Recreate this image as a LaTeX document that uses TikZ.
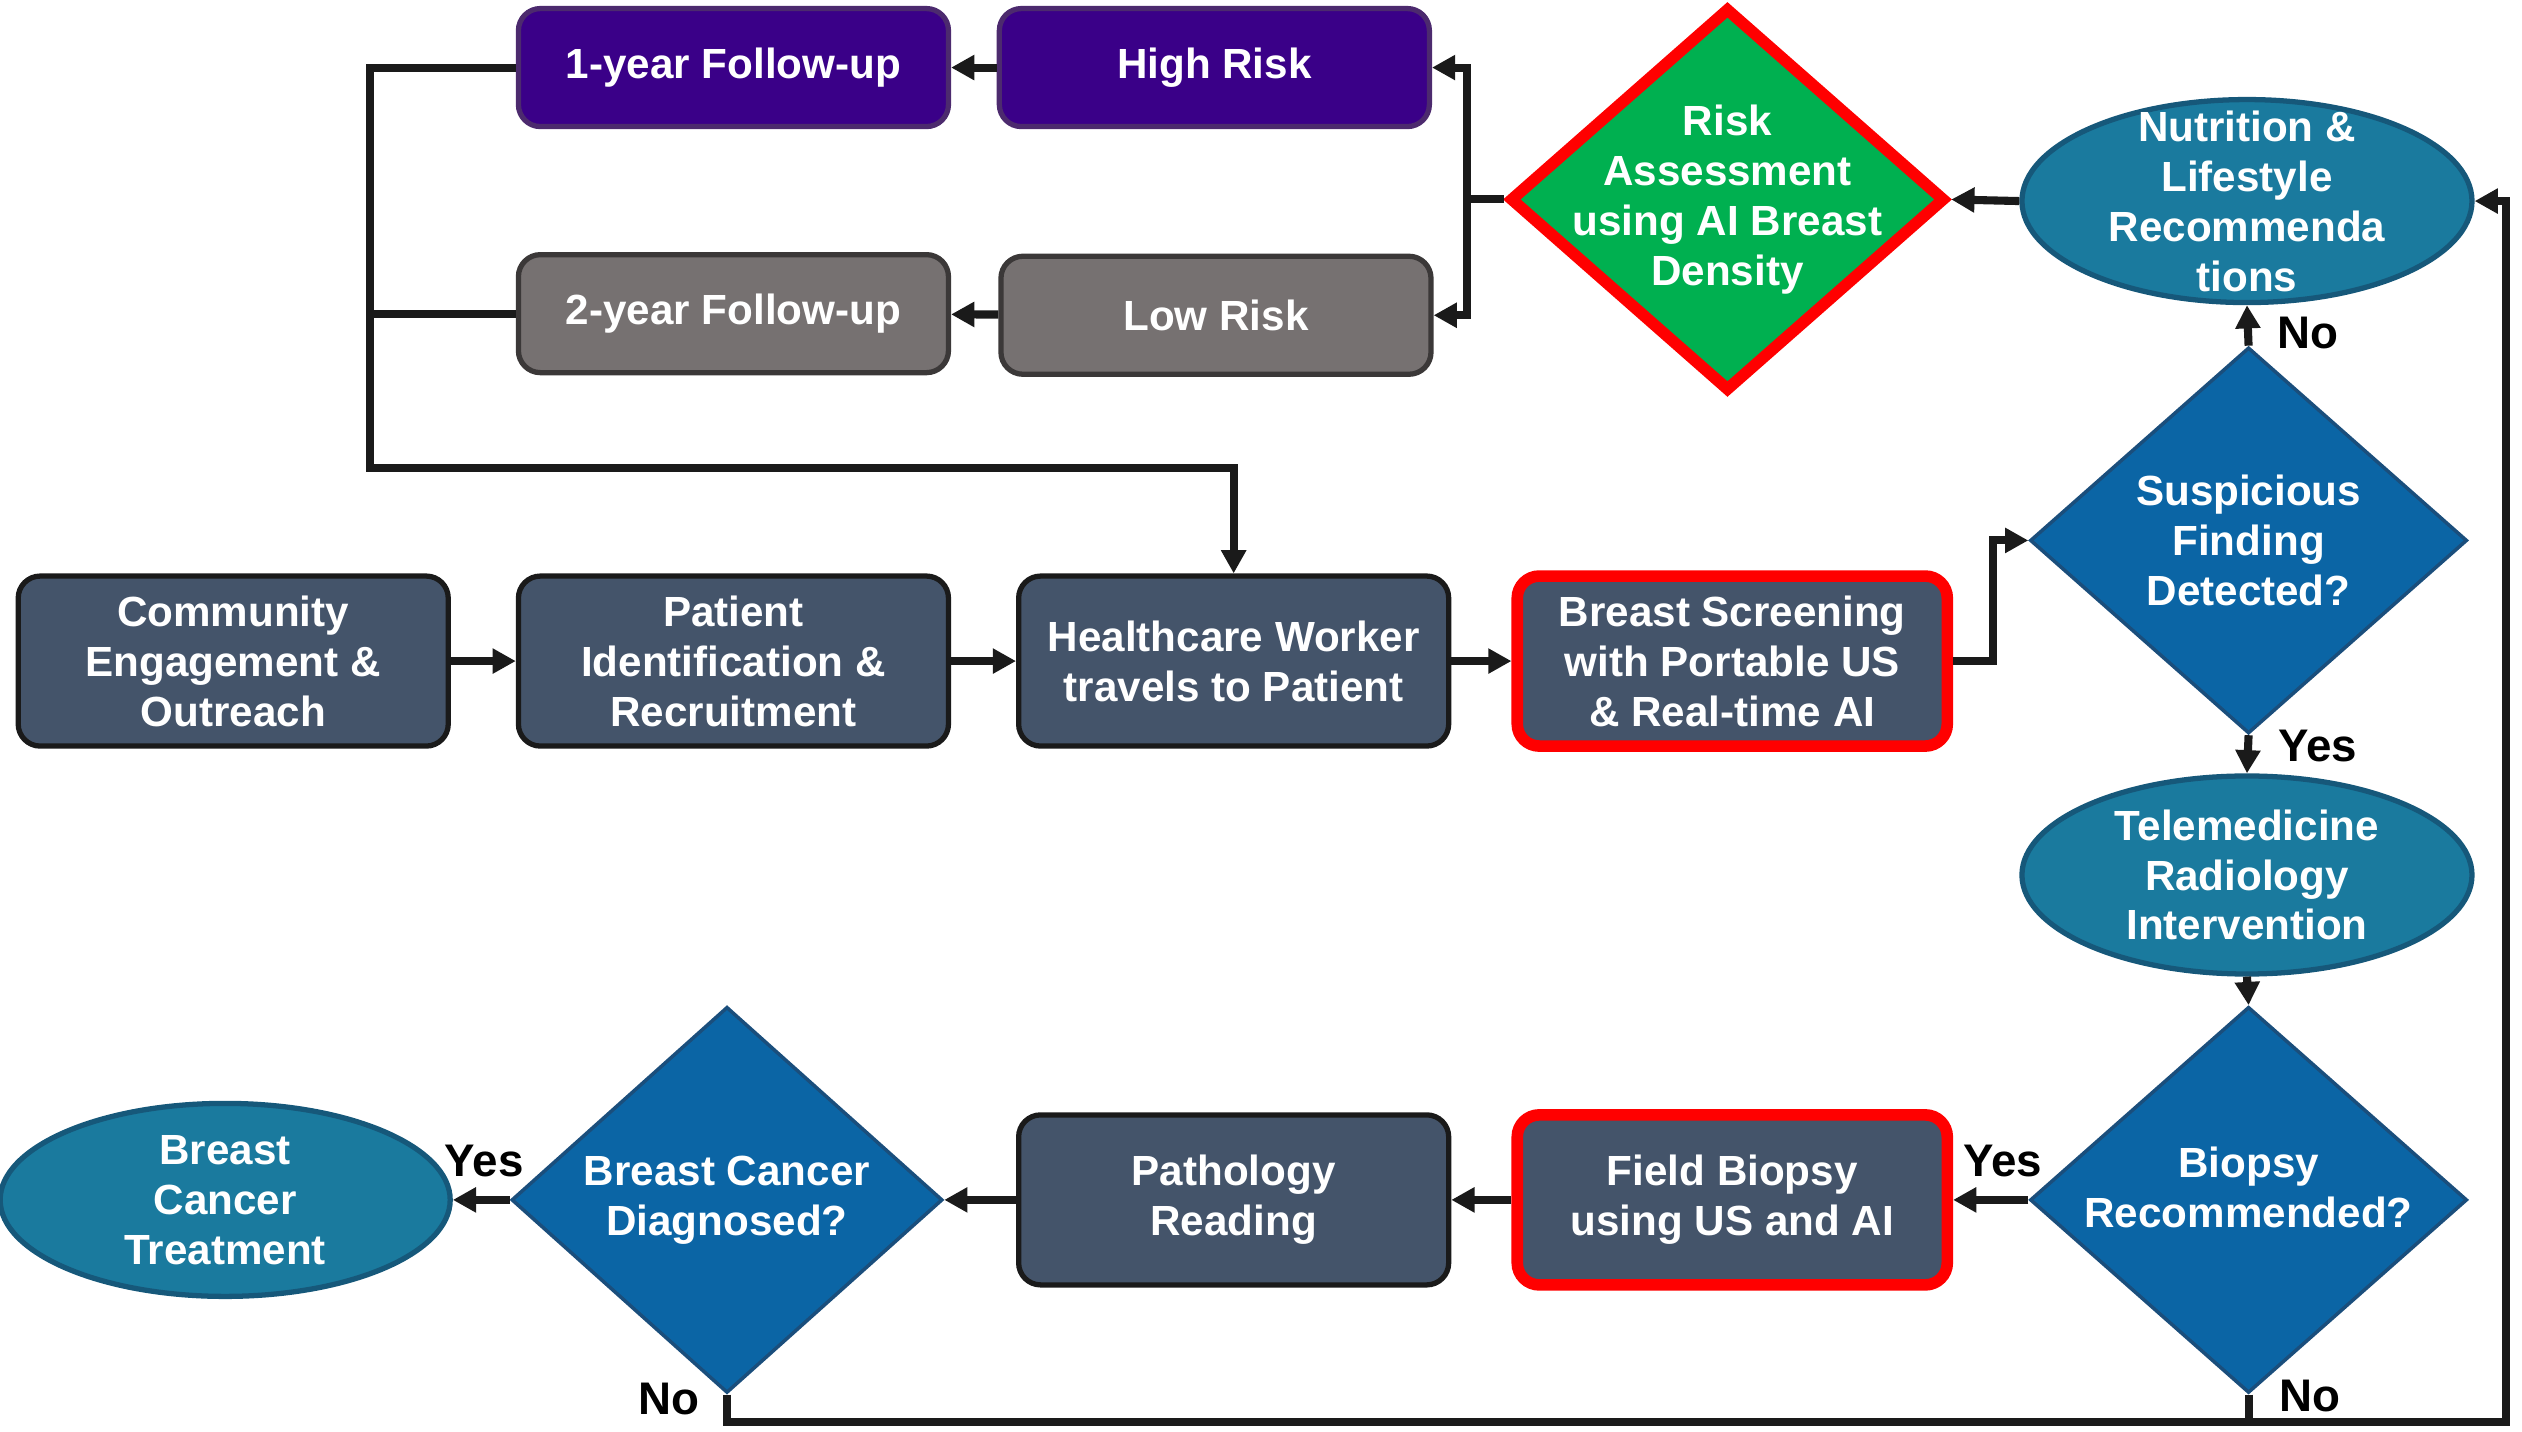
\documentclass[tikz,border=0pt]{standalone}
\usepackage{fontspec}
\setmainfont{Liberation Sans}
\usetikzlibrary{shapes.geometric,arrows.meta}
\definecolor{slate}{HTML}{44546A}
\definecolor{dkblue}{HTML}{0B65A5}
\definecolor{dkblueline}{HTML}{1A4E7C}
\definecolor{ovalfill}{HTML}{1A7A9E}
\definecolor{ovalline}{HTML}{16587A}
\definecolor{purp}{HTML}{3A0088}
\definecolor{purpline}{HTML}{4C2A6E}
\definecolor{riskgray}{HTML}{767171}
\definecolor{riskgrayline}{HTML}{3B3838}
\definecolor{riskgreen}{HTML}{00B050}
\definecolor{linecol}{HTML}{1A1A1A}
\tikzset{
  txt/.style={font=\fontsize{12}{14.2}\selectfont\bfseries, text=white, align=center},
  box/.style={txt, rectangle, rounded corners=2.2mm, draw=linecol, line width=1.5pt, fill=slate,
    minimum width=4.3cm, minimum height=1.7cm, inner sep=2pt},
  aibox/.style={box, draw=red, line width=3.3pt},
  highbox/.style={box, fill=purp, draw=purpline, minimum height=1.18cm},
  lowbox/.style={box, fill=riskgray, draw=riskgrayline, minimum height=1.18cm},
  decision/.style={diamond, draw=dkblueline, fill=dkblue, line width=1pt, inner sep=0pt,
    minimum width=4.37cm, minimum height=3.86cm},
  riskdia/.style={decision, fill=riskgreen, draw=red, line width=3.3pt,
    minimum width=4.36cm, minimum height=3.84cm},
  oval/.style={ellipse, draw=ovalline, fill=ovalfill, line width=1.5pt, inner sep=0pt,
    minimum width=4.5cm, minimum height=1.98cm},
  lbl/.style={font=\fontsize{13}{15}\selectfont\bfseries, text=black},
  flow/.style={draw=linecol, line width=2.3pt},
  >={Triangle[length=6.6pt,width=6.8pt]}
}
\begin{document}
\begin{tikzpicture}[x=0.016084cm, y=-0.016084cm]
  \useasboundingbox (0,0) rectangle (1568,890);
  % risk branch at the top
  \node[highbox] (fu1) at (456,42) {1-year Follow-up};
  \node[highbox] (high) at (755,42) {High Risk};
  \node[lowbox] (fu2) at (456,195) {2-year Follow-up};
  \node[lowbox] (low) at (756,196) {Low Risk};
  \node[riskdia, label={[txt]center:Risk\\Assessment\\using AI Breast\\Density}] (risk) at (1074,124) {};
  \node[oval, minimum height=2.03cm, label={[txt]center:Nutrition \&\\Lifestyle\\Recommenda\\tions}] (nut) at (1397,125) {};
  % screening row
  \node[box] (comm) at (145,411) {Community\\Engagement \&\\Outreach};
  \node[box] (pat) at (456,411) {Patient\\Identification \&\\Recruitment};
  \node[box] (hcw) at (767,411) {Healthcare Worker\\travels to Patient};
  \node[aibox] (scr) at (1077,411) {Breast Screening\\with Portable US\\\& Real-time AI};
  \node[decision, label={[txt]center:Suspicious\\Finding\\Detected?}] (susp) at (1398,336) {};
  \node[oval, label={[txt]center:Telemedicine\\Radiology\\Intervention}] (tele) at (1397,544) {};
  % biopsy row
  \node[decision, label={[txt,yshift=3.6pt]center:Biopsy\\Recommended?}] (bio) at (1398,746) {};
  \node[aibox] (fbx) at (1077,746) {Field Biopsy\\using US and AI};
  \node[box] (patho) at (767,746) {Pathology\\Reading};
  \node[decision, minimum width=4.31cm, label={[txt]center:Breast Cancer\\Diagnosed?}] (bcd) at (452,746) {};
  \node[oval, minimum height=1.93cm, label={[txt]center:Breast\\Cancer\\Treatment}] (treat) at (140,746) {};
  % answers
  \node[lbl] (no1) at (1435,207) {No};
  \node[lbl] (yes1) at (1441,464) {Yes};
  \node[lbl] (yes2) at (1245,722) {Yes};
  \node[lbl] (no2) at (1436,868) {No};
  \node[lbl] (yes3) at (301,722) {Yes};
  \node[lbl] (no3) at (416,870) {No};
  % main flow
  \draw[flow,->] (comm) -- (pat);
  \draw[flow,->] (pat) -- (hcw);
  \draw[flow,->] (hcw) -- (scr);
  \draw[flow,->] (scr.east) -- ++(25,0) |- (susp.west);
  \draw[flow,->] (susp.north) -- (nut.south);
  \draw[flow,->] (susp.south) -- (tele.north);
  \draw[flow,->] (tele.south) -- (bio.north);
  \draw[flow,->] (bio.west) -- (fbx.east);
  \draw[flow,->] (fbx) -- (patho);
  \draw[flow,->] (patho) -- (bcd.east);
  \draw[flow,->] (bcd.west) -- (treat.east);
  % back to nutrition
  \coordinate (loop) at (1558,884);
  \draw[flow,->] (bcd.south) |- (loop) |- (nut.east);
  \draw[flow] (bio.south) -- (bio.south |- loop);
  \draw[flow,->] (nut.west) -- (risk.east);
  % risk split and follow-up
  \coordinate (rsplit) at (912,124);
  \draw[flow] (risk.west) -- (rsplit);
  \draw[flow,->] (rsplit) |- (high.east);
  \draw[flow,->] (rsplit) |- (low.east);
  \draw[flow,->] (high) -- (fu1);
  \draw[flow,->] (low) -- (fu2);
  \coordinate (fback) at (230,291);
  \draw[flow,->] (fu1.west) -| (fback) -| (hcw.north);
  \draw[flow] (fu2.west) -- (fu2.west -| fback);
\end{tikzpicture}
\end{document}
